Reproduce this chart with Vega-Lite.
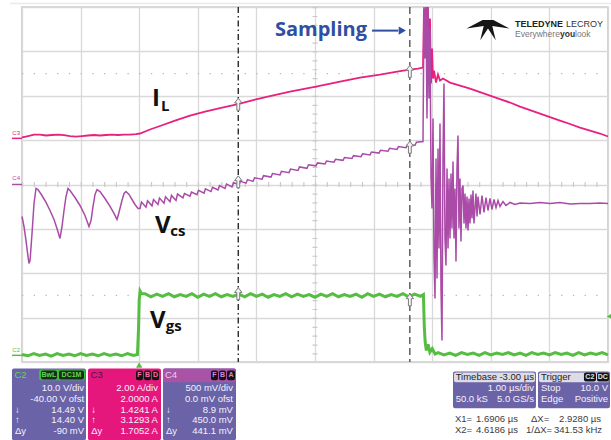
{
  "$schema": "https://vega.github.io/schema/vega-lite/v6.json",
  "width": 586,
  "height": 355,
  "autosize": {"type": "none"},
  "padding": {"left": 22, "top": 7, "right": 3, "bottom": 78},
  "background": "#ffffff",
  "config": {"view": {"stroke": "#c6c6c6", "strokeWidth": 1.5}},
  "encoding": {
    "x": {"field": "t", "type": "quantitative", "scale": {"domain": [-2, 8], "nice": false, "zero": false},
      "axis": {"values": [-2,-1,0,1,2,3,4,5,6,7,8], "labels": false, "ticks": false, "domain": false, "title": null, "grid": true, "gridColor": "#d9d9d9", "gridWidth": 1.3}},
    "y": {"field": "v", "type": "quantitative", "scale": {"domain": [-4, 4], "nice": false, "zero": false},
      "axis": {"values": [-4,-3,-2,-1,0,1,2,3,4], "labels": false, "ticks": false, "domain": false, "title": null, "grid": true, "gridColor": "#d9d9d9", "gridWidth": 1.3}}
  },
  "resolve": {"scale": {"color": "independent", "fill": "independent", "stroke": "independent"}},
  "datasets": {
    "topline": [{"t": -2.205, "t2": 8.05, "v": 4.077}],
    "dots": [{"t": -2, "t2": 8, "v": 2.5}, {"t": -2, "t2": 8, "v": -2.5}],
    "hticks": [{"t": -2, "t2": 8, "v": 0}],
    "vticks": [{"t": 3, "v": 4, "v2": -4}],
    "cursors": [{"n": "X1", "t": 1.6906, "v": 4, "v2": -4}, {"n": "X2", "t": 4.6186, "v": 4, "v2": -4}],
    "cmarks": [{"t": 1.6906, "v": 1.81}, {"t": 1.6906, "v": 0.06}, {"t": 1.6906, "v": -2.46}, {"t": 4.6186, "v": 2.55}, {"t": 4.6186, "v": 0.84}, {"t": 4.6186, "v": -2.6}],
    "IL": [
      {"t":-2.0,"v":1.06},{"t":-1.932,"v":1.08},{"t":-1.863,"v":1.10},{"t":-1.795,"v":1.126},{"t":-1.693,"v":1.126},{"t":-1.59,"v":1.104},{"t":-1.488,"v":1.115},{"t":-1.386,"v":1.126},{"t":-1.283,"v":1.115},{"t":-1.181,"v":1.092},{"t":-1.078,"v":1.081},{"t":-0.976,"v":1.092},{"t":-0.874,"v":1.104},{"t":-0.771,"v":1.115},{"t":-0.669,"v":1.104},{"t":-0.567,"v":1.115},{"t":-0.464,"v":1.126},{"t":-0.362,"v":1.115},{"t":-0.259,"v":1.126},{"t":-0.157,"v":1.126},{"t":-0.055,"v":1.137},{"t":0.014,"v":1.149},{"t":0.184,"v":1.239},{"t":0.355,"v":1.318},{"t":0.611,"v":1.441},{"t":0.867,"v":1.554},{"t":1.123,"v":1.644},{"t":1.379,"v":1.723},{"t":1.686,"v":1.813},{"t":1.976,"v":1.914},{"t":2.232,"v":1.993},{"t":2.573,"v":2.095},{"t":3.017,"v":2.207},{"t":3.427,"v":2.32},{"t":3.768,"v":2.41},{"t":4.109,"v":2.477},{"t":4.451,"v":2.556},{"t":4.621,"v":2.59},{"t":4.758,"v":2.613},{"t":4.843,"v":2.635},{"t":4.86,"v":3.964},{"t":4.877,"v":3.288},{"t":4.894,"v":4.0},{"t":4.911,"v":2.838},{"t":4.928,"v":4.0},{"t":4.945,"v":2.5},{"t":4.962,"v":3.739},{"t":4.98,"v":2.275},{"t":4.997,"v":3.063},{"t":5.014,"v":2.387},{"t":5.031,"v":2.568},{"t":5.065,"v":2.297},{"t":5.099,"v":2.477},{"t":5.133,"v":2.342},{"t":5.184,"v":2.387},{"t":5.304,"v":2.297},{"t":5.474,"v":2.23},{"t":5.645,"v":2.162},{"t":5.816,"v":2.083},{"t":5.986,"v":2.005},{"t":6.157,"v":1.926},{"t":6.328,"v":1.847},{"t":6.498,"v":1.757},{"t":6.669,"v":1.678},{"t":6.84,"v":1.599},{"t":7.01,"v":1.52},{"t":7.181,"v":1.441},{"t":7.352,"v":1.363},{"t":7.522,"v":1.284},{"t":7.693,"v":1.216},{"t":7.863,"v":1.149},{"t":8.0,"v":1.081}
    ],
    "Vcs": [
      {"t":-2.0,"v":-0.721},{"t":-1.966,"v":-0.946},{"t":-1.932,"v":-1.261},{"t":-1.898,"v":-1.622},{"t":-1.881,"v":-1.779},{"t":-1.863,"v":-1.712},{"t":-1.829,"v":-1.104},{"t":-1.795,"v":-0.428},{"t":-1.761,"v":-0.09},{"t":-1.727,"v":-0.113},{"t":-1.659,"v":-0.248},{"t":-1.59,"v":-0.405},{"t":-1.522,"v":-0.586},{"t":-1.454,"v":-0.788},{"t":-1.403,"v":-0.991},{"t":-1.352,"v":-1.216},{"t":-1.317,"v":-0.946},{"t":-1.283,"v":-0.586},{"t":-1.249,"v":-0.27},{"t":-1.215,"v":-0.09},{"t":-1.181,"v":-0.135},{"t":-1.096,"v":-0.293},{"t":-1.01,"v":-0.473},{"t":-0.925,"v":-0.698},{"t":-0.857,"v":-0.946},{"t":-0.822,"v":-0.811},{"t":-0.788,"v":-0.495},{"t":-0.754,"v":-0.225},{"t":-0.72,"v":-0.113},{"t":-0.669,"v":-0.158},{"t":-0.584,"v":-0.315},{"t":-0.498,"v":-0.495},{"t":-0.43,"v":-0.653},{"t":-0.379,"v":-0.788},{"t":-0.345,"v":-0.631},{"t":-0.294,"v":-0.36},{"t":-0.259,"v":-0.203},{"t":-0.225,"v":-0.158},{"t":-0.174,"v":-0.225},{"t":-0.123,"v":-0.338},{"t":-0.072,"v":-0.45},{"t":-0.02,"v":-0.541},
      {"t":0.014,"v":-0.541},{"t":0.039,"v":-0.397},{"t":0.116,"v":-0.511},{"t":0.142,"v":-0.367},{"t":0.218,"v":-0.481},{"t":0.244,"v":-0.337},{"t":0.321,"v":-0.45},{"t":0.346,"v":-0.306},{"t":0.423,"v":-0.42},{"t":0.449,"v":-0.276},{"t":0.526,"v":-0.389},{"t":0.551,"v":-0.246},{"t":0.628,"v":-0.359},{"t":0.654,"v":-0.216},
      {"t":0.747,"v":-0.301},{"t":0.773,"v":-0.203},{"t":0.867,"v":-0.265},{"t":0.892,"v":-0.168},{"t":0.986,"v":-0.23},{"t":1.012,"v":-0.132},{"t":1.106,"v":-0.194},{"t":1.131,"v":-0.097},{"t":1.225,"v":-0.159},{"t":1.251,"v":-0.061},{"t":1.345,"v":-0.124},{"t":1.37,"v":-0.026},{"t":1.464,"v":-0.088},{"t":1.49,"v":0.009},{"t":1.584,"v":-0.053},{"t":1.609,"v":0.045},
      {"t":1.703,"v":-0.008},{"t":1.729,"v":0.072},{"t":1.823,"v":0.031},{"t":1.848,"v":0.111},{"t":1.942,"v":0.069},{"t":1.968,"v":0.15},{"t":2.096,"v":0.119},{"t":2.121,"v":0.199},{"t":2.249,"v":0.168},{"t":2.275,"v":0.248},{"t":2.403,"v":0.217},{"t":2.428,"v":0.298},{"t":2.556,"v":0.267},{"t":2.582,"v":0.347},{"t":2.71,"v":0.316},{"t":2.735,"v":0.396},{"t":2.863,"v":0.365},{"t":2.889,"v":0.446},
      {"t":3.017,"v":0.421},{"t":3.043,"v":0.486},{"t":3.171,"v":0.462},{"t":3.196,"v":0.527},{"t":3.324,"v":0.503},{"t":3.35,"v":0.568},{"t":3.478,"v":0.544},{"t":3.503,"v":0.609},{"t":3.631,"v":0.585},{"t":3.657,"v":0.65},{"t":3.785,"v":0.626},{"t":3.811,"v":0.691},{"t":3.939,"v":0.667},{"t":3.964,"v":0.732},{"t":4.092,"v":0.708},{"t":4.118,"v":0.773},{"t":4.246,"v":0.749},{"t":4.271,"v":0.814},{"t":4.399,"v":0.79},{"t":4.425,"v":0.855},{"t":4.553,"v":0.831},{"t":4.578,"v":0.895},{"t":4.706,"v":0.884},{"t":4.732,"v":0.952},{"t":4.843,"v":0.968},
      {"t":4.86,"v":4.0},{"t":4.877,"v":2.838},{"t":4.894,"v":4.0},{"t":4.911,"v":1.486},{"t":4.928,"v":4.0},{"t":4.945,"v":1.937},{"t":4.962,"v":3.514},{"t":4.98,"v":0.135},{"t":4.997,"v":-0.541},{"t":5.014,"v":1.486},{"t":5.031,"v":-1.667},{"t":5.048,"v":-2.568},{"t":5.065,"v":0.586},{"t":5.082,"v":-2.117},{"t":5.099,"v":0.811},{"t":5.116,"v":-1.441},{"t":5.133,"v":1.374},{"t":5.15,"v":-2.342},{"t":5.167,"v":-3.514},{"t":5.184,"v":0.586},{"t":5.201,"v":2.275},{"t":5.218,"v":-1.216},{"t":5.235,"v":-1.824},{"t":5.253,"v":0.36},{"t":5.27,"v":-1.441},{"t":5.287,"v":0.135},{"t":5.304,"v":-1.216},{"t":5.321,"v":0.248},{"t":5.338,"v":-0.991},{"t":5.355,"v":0.518},{"t":5.372,"v":-1.216},{"t":5.389,"v":-0.09},{"t":5.406,"v":-1.734},{"t":5.423,"v":0.36},{"t":5.44,"v":1.104},{"t":5.457,"v":-0.991},{"t":5.474,"v":0.135},{"t":5.491,"v":-1.284},{"t":5.509,"v":-0.09},{"t":5.526,"v":-0.023},{"t":5.543,"v":-0.878},{"t":5.56,"v":-0.203},{"t":5.577,"v":-0.991},{"t":5.594,"v":-0.27},{"t":5.611,"v":-1.036},{"t":5.628,"v":-0.315},{"t":5.645,"v":-0.878},{"t":5.662,"v":-0.225},{"t":5.679,"v":-0.766},{"t":5.696,"v":-0.135},{"t":5.713,"v":-0.878},{"t":5.747,"v":-0.203},{"t":5.765,"v":-0.721},{"t":5.782,"v":-0.27},{"t":5.816,"v":-0.676},{"t":5.85,"v":-0.248},{"t":5.884,"v":-0.631},{"t":5.918,"v":-0.293},{"t":5.952,"v":-0.586},{"t":5.986,"v":-0.315},{"t":6.02,"v":-0.563},{"t":6.055,"v":-0.338},{"t":6.089,"v":-0.518},{"t":6.123,"v":-0.36},{"t":6.157,"v":-0.495},{"t":6.208,"v":-0.383},{"t":6.259,"v":-0.473},{"t":6.328,"v":-0.405},{"t":6.413,"v":-0.45},{"t":6.498,"v":-0.417},{"t":6.669,"v":-0.428},{"t":6.84,"v":-0.405},{"t":7.01,"v":-0.428},{"t":7.181,"v":-0.405},{"t":7.352,"v":-0.439},{"t":7.522,"v":-0.428},{"t":7.693,"v":-0.428},{"t":7.863,"v":-0.417},{"t":8.0,"v":-0.428}
    ],
    "Vgs": [
      {"t":-2.0,"v":-3.83},{"t":-1.9,"v":-3.86},{"t":-1.8,"v":-3.81},{"t":-1.7,"v":-3.85},{"t":-1.6,"v":-3.82},{"t":-1.5,"v":-3.87},{"t":-1.4,"v":-3.81},{"t":-1.3,"v":-3.85},{"t":-1.2,"v":-3.82},{"t":-1.1,"v":-3.86},{"t":-1.0,"v":-3.81},{"t":-0.9,"v":-3.85},{"t":-0.8,"v":-3.82},{"t":-0.7,"v":-3.86},{"t":-0.6,"v":-3.81},{"t":-0.5,"v":-3.85},{"t":-0.4,"v":-3.82},{"t":-0.3,"v":-3.86},{"t":-0.2,"v":-3.81},{"t":-0.1,"v":-3.85},{"t":-0.03,"v":-3.83},{"t":-0.01,"v":-3.2},{"t":0.0,"v":-2.6},{"t":0.015,"v":-2.4},{"t":0.04,"v":-2.46},
      {"t":0.1,"v":-2.46},{"t":0.2,"v":-2.53},{"t":0.3,"v":-2.47},{"t":0.4,"v":-2.52},{"t":0.5,"v":-2.46},{"t":0.6,"v":-2.53},{"t":0.7,"v":-2.48},{"t":0.8,"v":-2.52},{"t":0.9,"v":-2.46},{"t":1.0,"v":-2.54},{"t":1.1,"v":-2.47},{"t":1.2,"v":-2.52},{"t":1.3,"v":-2.46},{"t":1.4,"v":-2.53},{"t":1.5,"v":-2.48},{"t":1.6,"v":-2.52},{"t":1.7,"v":-2.47},{"t":1.8,"v":-2.53},{"t":1.9,"v":-2.46},{"t":2.0,"v":-2.52},{"t":2.1,"v":-2.47},{"t":2.2,"v":-2.54},{"t":2.3,"v":-2.48},{"t":2.4,"v":-2.52},{"t":2.5,"v":-2.46},{"t":2.6,"v":-2.53},{"t":2.7,"v":-2.47},{"t":2.8,"v":-2.52},{"t":2.9,"v":-2.48},{"t":3.0,"v":-2.54},{"t":3.1,"v":-2.47},{"t":3.2,"v":-2.52},{"t":3.3,"v":-2.46},{"t":3.4,"v":-2.53},{"t":3.5,"v":-2.48},{"t":3.6,"v":-2.52},{"t":3.7,"v":-2.47},{"t":3.8,"v":-2.54},{"t":3.9,"v":-2.46},{"t":4.0,"v":-2.52},{"t":4.1,"v":-2.47},{"t":4.2,"v":-2.53},{"t":4.3,"v":-2.48},{"t":4.4,"v":-2.52},{"t":4.5,"v":-2.46},{"t":4.6,"v":-2.53},{"t":4.7,"v":-2.47},{"t":4.8,"v":-2.52},
      {"t":4.85,"v":-2.48},{"t":4.865,"v":-3.2},{"t":4.88,"v":-3.55},{"t":4.9,"v":-3.74},{"t":4.93,"v":-3.6},{"t":4.96,"v":-3.78},{"t":5.0,"v":-3.7},{"t":5.05,"v":-3.82},
      {"t":5.1,"v":-3.79},{"t":5.2,"v":-3.84},{"t":5.3,"v":-3.8},{"t":5.4,"v":-3.85},{"t":5.5,"v":-3.79},{"t":5.6,"v":-3.83},{"t":5.7,"v":-3.8},{"t":5.8,"v":-3.85},{"t":5.9,"v":-3.79},{"t":6.0,"v":-3.84},{"t":6.1,"v":-3.8},{"t":6.2,"v":-3.83},{"t":6.3,"v":-3.79},{"t":6.4,"v":-3.84},{"t":6.5,"v":-3.8},{"t":6.6,"v":-3.85},{"t":6.7,"v":-3.79},{"t":6.8,"v":-3.83},{"t":6.9,"v":-3.8},{"t":7.0,"v":-3.84},{"t":7.1,"v":-3.79},{"t":7.2,"v":-3.83},{"t":7.3,"v":-3.8},{"t":7.4,"v":-3.85},{"t":7.5,"v":-3.79},{"t":7.6,"v":-3.84},{"t":7.7,"v":-3.8},{"t":7.8,"v":-3.83},{"t":7.9,"v":-3.79},{"t":8.0,"v":-3.84}
    ],
    "labels": [
      {"s":"I","t":0.22,"v":1.78,"k":"big"},{"s":"L","t":0.37,"v":1.66,"k":"sub"},
      {"s":"V","t":0.27,"v":-1.104,"k":"big"},{"s":"cs","t":0.53,"v":-1.15,"k":"sub"},
      {"s":"V","t":0.184,"v":-3.243,"k":"big"},{"s":"gs","t":0.455,"v":-3.31,"k":"sub"}
    ],
    "sampling": [{"s":"Sampling","t":2.317,"v":3.356}],
    "arrow": [{"t":3.973,"t2":4.42,"v":3.468}],
    "arrowhead": [{"t":4.49,"v":3.468}],
    "logo": [{"t":5.952,"v":3.491}],
    "logotext": [
      {"s":"TELEDYNE","t":6.413,"v":3.559,"k":"b"},{"s":"LECROY","t":7.283,"v":3.559,"k":"n"},
      {"s":"Everywhere","t":6.413,"v":3.333,"k":"g"},{"s":"you","t":7.181,"v":3.333,"k":"b2"},{"s":"look","t":7.437,"v":3.333,"k":"g"}
    ],
    "chtext": [{"s":"C3","t":-2.1,"v":1.15,"c":"IL"},{"s":"C4","t":-2.1,"v":0.14,"c":"Vcs"},{"s":"C2","t":-2.1,"v":-3.74,"c":"Vgs"}],
    "chline": [{"t":-2.17,"t2":-2.0,"v":1.04,"c":"IL"},{"t":-2.17,"t2":-2.0,"v":0.0,"c":"Vcs"},{"t":-2.17,"t2":-2.0,"v":-3.85,"c":"Vgs"}],
    "trig": [{"t":0.0,"v":-4.07}],
    "triglevel": [{"t":8.017,"v":-2.973}],
    "prect": [
      {"t":-2.171,"t2":-0.908,"v":-4.144,"v2":-5.766,"k":"purple"},
      {"t":-0.874,"t2":0.372,"v":-4.144,"v2":-5.766,"k":"pink"},
      {"t":0.406,"t2":1.652,"v":-4.144,"v2":-5.766,"k":"purple"},
      {"t":0.406,"t2":1.652,"v":-4.144,"v2":-4.459,"k":"magenta"},
      {"t":5.355,"t2":6.771,"v":-4.212,"v2":-5.045,"k":"purple"},
      {"t":5.372,"t2":6.754,"v":-4.234,"v2":-4.459,"k":"gray"},
      {"t":6.805,"t2":8.034,"v":-4.212,"v2":-5.045,"k":"purple"},
      {"t":6.822,"t2":8.017,"v":-4.234,"v2":-4.459,"k":"gray"},
      {"t":-1.71,"t2":-0.925,"v":-4.167,"v2":-4.414,"k":"green"},
      {"t":-1.676,"t2":-1.403,"v":-4.189,"v2":-4.392,"k":"dark"},
      {"t":-1.369,"t2":-0.942,"v":-4.189,"v2":-4.392,"k":"dark"},
      {"t":-0.055,"t2":0.065,"v":-4.189,"v2":-4.414,"k":"black"},
      {"t":0.082,"t2":0.201,"v":-4.189,"v2":-4.414,"k":"black"},
      {"t":0.218,"t2":0.338,"v":-4.189,"v2":-4.414,"k":"black"},
      {"t":1.225,"t2":1.345,"v":-4.189,"v2":-4.414,"k":"black"},
      {"t":1.362,"t2":1.481,"v":-4.189,"v2":-4.414,"k":"black"},
      {"t":1.498,"t2":1.635,"v":-4.189,"v2":-4.414,"k":"black"},
      {"t":7.59,"t2":7.795,"v":-4.234,"v2":-4.437,"k":"black"},
      {"t":7.812,"t2":8.017,"v":-4.234,"v2":-4.437,"k":"black"}
    ],
    "ptext": [
      {"s":"C2","t":-2.13,"v":-4.29,"a":"l","c":"g"},
      {"s":"BwL","t":-1.54,"v":-4.29,"a":"c","c":"g"},
      {"s":"DC1M","t":-1.155,"v":-4.29,"a":"c","c":"g"},
      {"s":"10.0 V/div","t":-0.94,"v":-4.595,"a":"r","c":"w"},
      {"s":"-40.00 V ofst","t":-0.94,"v":-4.835,"a":"r","c":"w"},
      {"s":"14.49 V","t":-0.94,"v":-5.083,"a":"r","c":"w"},
      {"s":"14.40 V","t":-0.94,"v":-5.309,"a":"r","c":"w"},
      {"s":"-90 mV","t":-0.94,"v":-5.556,"a":"r","c":"w"},
      {"s":"↓","t":-2.12,"v":-5.083,"a":"l","c":"w"},
      {"s":"↑","t":-2.12,"v":-5.309,"a":"l","c":"w"},
      {"s":"Δy","t":-2.12,"v":-5.556,"a":"l","c":"w"},
      {"s":"C3","t":-0.83,"v":-4.29,"a":"l","c":"m"},
      {"s":"F","t":0.005,"v":-4.3,"a":"c","c":"p"},
      {"s":"B","t":0.142,"v":-4.3,"a":"c","c":"p"},
      {"s":"D","t":0.278,"v":-4.3,"a":"c","c":"p"},
      {"s":"2.00 A/div","t":0.32,"v":-4.595,"a":"r","c":"w"},
      {"s":"2.0000 A","t":0.32,"v":-4.835,"a":"r","c":"w"},
      {"s":"1.4241 A","t":0.32,"v":-5.083,"a":"r","c":"w"},
      {"s":"3.1293 A","t":0.32,"v":-5.309,"a":"r","c":"w"},
      {"s":"1.7052 A","t":0.32,"v":-5.556,"a":"r","c":"w"},
      {"s":"↓","t":-0.82,"v":-5.083,"a":"l","c":"w"},
      {"s":"↑","t":-0.82,"v":-5.309,"a":"l","c":"w"},
      {"s":"Δy","t":-0.82,"v":-5.556,"a":"l","c":"w"},
      {"s":"C4","t":0.44,"v":-4.29,"a":"l","c":"l"},
      {"s":"F","t":1.285,"v":-4.3,"a":"c","c":"pu"},
      {"s":"B","t":1.421,"v":-4.3,"a":"c","c":"pu"},
      {"s":"A","t":1.566,"v":-4.3,"a":"c","c":"pu"},
      {"s":"500 mV/div","t":1.6,"v":-4.595,"a":"r","c":"w"},
      {"s":"0.0 mV ofst","t":1.6,"v":-4.835,"a":"r","c":"w"},
      {"s":"8.9 mV","t":1.6,"v":-5.083,"a":"r","c":"w"},
      {"s":"450.0 mV","t":1.6,"v":-5.309,"a":"r","c":"w"},
      {"s":"441.1 mV","t":1.6,"v":-5.556,"a":"r","c":"w"},
      {"s":"↓","t":0.457,"v":-5.083,"a":"l","c":"w"},
      {"s":"↑","t":0.457,"v":-5.309,"a":"l","c":"w"},
      {"s":"Δy","t":0.457,"v":-5.556,"a":"l","c":"w"},
      {"s":"Timebase","t":5.4,"v":-4.336,"a":"l","c":"d"},
      {"s":"-3.00 µs","t":6.737,"v":-4.336,"a":"r","c":"d"},
      {"s":"1.00 µs/div","t":6.737,"v":-4.595,"a":"r","c":"w"},
      {"s":"50.0 kS","t":5.4,"v":-4.83,"a":"l","c":"w"},
      {"s":"5.0 GS/s","t":6.737,"v":-4.83,"a":"r","c":"w"},
      {"s":"Trigger","t":6.857,"v":-4.336,"a":"l","c":"d"},
      {"s":"C2","t":7.69,"v":-4.336,"a":"c","c":"bw"},
      {"s":"DC","t":7.91,"v":-4.336,"a":"c","c":"bw"},
      {"s":"Stop","t":6.857,"v":-4.595,"a":"l","c":"w"},
      {"s":"10.0 V","t":8.0,"v":-4.595,"a":"r","c":"w"},
      {"s":"Edge","t":6.857,"v":-4.83,"a":"l","c":"w"},
      {"s":"Positive","t":8.0,"v":-4.83,"a":"r","c":"w"},
      {"s":"X1=","t":5.389,"v":-5.293,"a":"l","c":"cur"},
      {"s":"1.6906 µs","t":6.464,"v":-5.293,"a":"r","c":"cur"},
      {"s":"ΔX=","t":6.686,"v":-5.293,"a":"l","c":"cur"},
      {"s":"2.9280 µs","t":7.881,"v":-5.293,"a":"r","c":"cur"},
      {"s":"X2=","t":5.389,"v":-5.541,"a":"l","c":"cur"},
      {"s":"4.6186 µs","t":6.464,"v":-5.541,"a":"r","c":"cur"},
      {"s":"1/ΔX=","t":6.601,"v":-5.541,"a":"l","c":"cur"},
      {"s":"341.53 kHz","t":7.898,"v":-5.541,"a":"r","c":"cur"}
    ]
  },
  "layer": [
    {"data": {"name": "topline"}, "mark": {"type": "rule", "color": "#e2eaf4", "strokeWidth": 1.5}, "encoding": {"x2": {"field": "t2"}}},
    {"data": {"name": "dots"}, "mark": {"type": "rule", "color": "#b8b8b8", "strokeWidth": 1.3, "strokeDash": [1.3, 10.42]}, "encoding": {"x2": {"field": "t2"}}},
    {"data": {"name": "hticks"}, "mark": {"type": "rule", "color": "#cacaca", "strokeWidth": 5, "strokeDash": [1.2, 10.52]}, "encoding": {"x2": {"field": "t2"}}},
    {"data": {"name": "vticks"}, "mark": {"type": "rule", "color": "#cacaca", "strokeWidth": 5, "strokeDash": [1.2, 7.68]}, "encoding": {"y2": {"field": "v2"}}},
    {"data": {"name": "Vgs"}, "mark": {"type": "line", "color": "#55bd42", "strokeWidth": 3}},
    {"data": {"name": "IL"}, "mark": {"type": "line", "color": "#e8207f", "strokeWidth": 1.8}},
    {"data": {"name": "Vcs"}, "mark": {"type": "line", "color": "#aa4ba8", "strokeWidth": 1.5}},
    {"data": {"name": "cursors"}, "transform": [{"filter": "datum.n == 'X1'"}], "mark": {"type": "rule", "color": "#2b2b2b", "strokeWidth": 1.4, "strokeDash": [6, 3, 1.5, 3]}, "encoding": {"y2": {"field": "v2"}}},
    {"data": {"name": "cursors"}, "transform": [{"filter": "datum.n == 'X2'"}], "mark": {"type": "rule", "color": "#3a3a3a", "strokeWidth": 1.2, "strokeDash": [7, 4]}, "encoding": {"y2": {"field": "v2"}}},
    {"data": {"name": "cmarks"}, "mark": {"type": "point", "shape": "M0,-1L0.62,-0.2L0.24,-0.2L0.24,1L-0.24,1L-0.24,-0.2L-0.62,-0.2Z", "size": 144, "filled": true, "fill": "#f4f4f4", "stroke": "#7a7a7a", "strokeWidth": 1, "opacity": 1}},
    {"data": {"name": "labels"}, "transform": [{"filter": "datum.k == 'big'"}], "mark": {"type": "text", "align": "left", "baseline": "alphabetic", "font": "Open Sans", "fontWeight": "bold", "fontSize": 24, "color": "#111111"}, "encoding": {"text": {"field": "s"}}},
    {"data": {"name": "labels"}, "transform": [{"filter": "datum.k == 'sub'"}], "mark": {"type": "text", "align": "left", "baseline": "alphabetic", "font": "Open Sans", "fontWeight": "bold", "fontSize": 15, "color": "#111111"}, "encoding": {"text": {"field": "s"}}},
    {"data": {"name": "sampling"}, "mark": {"type": "text", "align": "left", "baseline": "alphabetic", "font": "Open Sans", "fontWeight": "bold", "fontSize": 20, "color": "#2f4fa0"}, "encoding": {"text": {"field": "s"}}},
    {"data": {"name": "arrow"}, "mark": {"type": "rule", "color": "#2f4fa0", "strokeWidth": 2}, "encoding": {"x2": {"field": "t2"}}},
    {"data": {"name": "arrowhead"}, "mark": {"type": "point", "shape": "triangle-right", "size": 70, "filled": true, "color": "#2f4fa0", "opacity": 1}},
    {"data": {"name": "logo"}, "mark": {"type": "point", "shape": "M-1,-0.05L-0.25,-0.45L0.25,-0.45L1,-0.05L0.2,-0.17L0.36,0.5L0,-0.05L-0.36,0.5L-0.2,-0.17Z", "size": 1849, "filled": true, "color": "#151515", "opacity": 1}},
    {"data": {"name": "logotext"}, "transform": [{"filter": "datum.k == 'b'"}], "mark": {"type": "text", "align": "left", "baseline": "alphabetic", "font": "Liberation Sans", "fontWeight": "bold", "fontSize": 9, "color": "#222222"}, "encoding": {"text": {"field": "s"}}},
    {"data": {"name": "logotext"}, "transform": [{"filter": "datum.k == 'n'"}], "mark": {"type": "text", "align": "left", "baseline": "alphabetic", "font": "Liberation Sans", "fontSize": 9, "color": "#333333"}, "encoding": {"text": {"field": "s"}}},
    {"data": {"name": "logotext"}, "transform": [{"filter": "datum.k == 'g'"}], "mark": {"type": "text", "align": "left", "baseline": "alphabetic", "font": "Liberation Sans", "fontSize": 8.5, "color": "#777777"}, "encoding": {"text": {"field": "s"}}},
    {"data": {"name": "logotext"}, "transform": [{"filter": "datum.k == 'b2'"}], "mark": {"type": "text", "align": "left", "baseline": "alphabetic", "font": "Liberation Sans", "fontWeight": "bold", "fontSize": 8.5, "color": "#333333"}, "encoding": {"text": {"field": "s"}}},
    {"data": {"name": "chline"}, "mark": {"type": "rule", "strokeWidth": 1.5}, "encoding": {"x2": {"field": "t2"}, "color": {"field": "c", "type": "nominal", "scale": {"domain": ["IL", "Vcs", "Vgs"], "range": ["#e8207f", "#aa4ba8", "#55bd42"]}, "legend": null}}},
    {"data": {"name": "chtext"}, "mark": {"type": "text", "fontSize": 6, "font": "Liberation Sans", "baseline": "middle", "align": "center"}, "encoding": {"text": {"field": "s"}, "color": {"field": "c", "type": "nominal", "scale": {"domain": ["IL", "Vcs", "Vgs"], "range": ["#e8207f", "#aa4ba8", "#55bd42"]}, "legend": null}}},
    {"data": {"name": "trig"}, "mark": {"type": "point", "shape": "triangle-up", "size": 40, "filled": true, "color": "#55bd42", "opacity": 1}},
    {"data": {"name": "triglevel"}, "mark": {"type": "point", "shape": "triangle-left", "size": 25, "filled": true, "color": "#55bd42", "opacity": 1}},
    {"data": {"name": "prect"}, "mark": {"type": "rect", "cornerRadius": 2}, "encoding": {"x2": {"field": "t2"}, "y2": {"field": "v2"},
      "fill": {"field": "k", "type": "nominal", "scale": {"domain": ["purple", "pink", "magenta", "gray", "green", "dark", "black"], "range": ["#6b63a8", "#e6177c", "#a953a6", "#dcdce6", "#3fbf3f", "#1d2b1d", "#141414"]}, "legend": null}}},
    {"data": {"name": "ptext"}, "transform": [{"filter": "datum.a == 'l'"}], "mark": {"type": "text", "align": "left", "baseline": "middle", "font": "Liberation Sans", "fontSize": 9.5},
      "encoding": {"text": {"field": "s"}, "fill": {"field": "c", "type": "nominal", "scale": {"domain": ["w", "g", "d", "m", "l", "cur", "p", "pu", "bw"], "range": ["#f3f1fb", "#62d64e", "#1e1e1e", "#4a1545", "#f2c9ef", "#3c3c3c", "#ff6cb5", "#d58ad4", "#e4e4e4"]}, "legend": null}}},
    {"data": {"name": "ptext"}, "transform": [{"filter": "datum.a == 'r'"}], "mark": {"type": "text", "align": "right", "baseline": "middle", "font": "Liberation Sans", "fontSize": 9.5},
      "encoding": {"text": {"field": "s"}, "fill": {"field": "c", "type": "nominal", "scale": {"domain": ["w", "g", "d", "m", "l", "cur", "p", "pu", "bw"], "range": ["#f3f1fb", "#62d64e", "#1e1e1e", "#4a1545", "#f2c9ef", "#3c3c3c", "#ff6cb5", "#d58ad4", "#e4e4e4"]}, "legend": null}}},
    {"data": {"name": "ptext"}, "transform": [{"filter": "datum.a == 'c'"}], "mark": {"type": "text", "align": "center", "baseline": "middle", "font": "Liberation Sans", "fontSize": 7, "fontWeight": "bold"},
      "encoding": {"text": {"field": "s"}, "fill": {"field": "c", "type": "nominal", "scale": {"domain": ["w", "g", "d", "m", "l", "cur", "p", "pu", "bw"], "range": ["#f3f1fb", "#62d64e", "#1e1e1e", "#4a1545", "#f2c9ef", "#3c3c3c", "#ff6cb5", "#d58ad4", "#e4e4e4"]}, "legend": null}}}
  ]
}
